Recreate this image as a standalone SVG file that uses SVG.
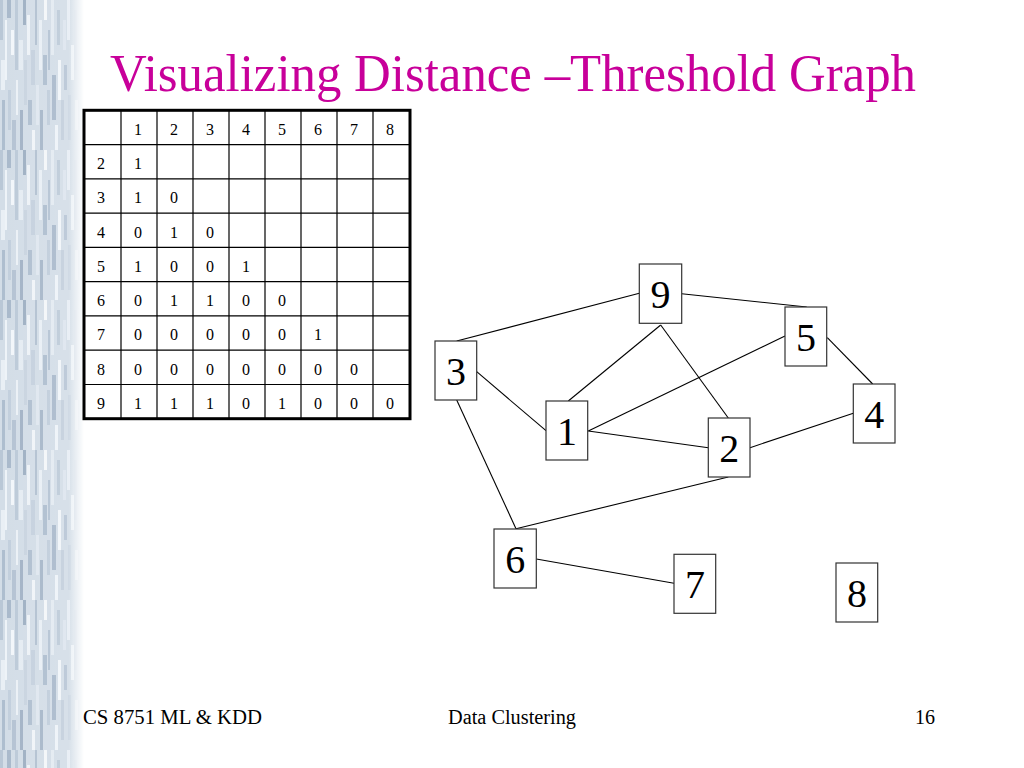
<svg xmlns="http://www.w3.org/2000/svg" width="1024" height="768" viewBox="0 0 1024 768">
<style>
text{font-family:"Liberation Serif","Times New Roman",serif}
.title{font-size:52px;fill:#C8009A}
.foot{font-size:20px;fill:#000}
.cell{font-size:16px;fill:#000}
.grid{stroke:#000;stroke-width:1.2;fill:none}
.node rect{fill:#fff;stroke:#333;stroke-width:1.2}
.node text{font-size:40px;fill:#000;text-anchor:middle}
.edge{stroke:#000;stroke-width:1.1;fill:none}
</style>
<defs>
<linearGradient id="fade" x1="0" y1="0" x2="1" y2="0">
<stop offset="0" stop-color="#fff" stop-opacity="0"/>
<stop offset="0.82" stop-color="#fff" stop-opacity="0.1"/>
<stop offset="1" stop-color="#fff" stop-opacity="1"/>
</linearGradient>
<pattern id="tex" x="0" y="0" width="84" height="150" patternUnits="userSpaceOnUse">
<rect width="84" height="150" fill="#d3dde7"/>
<rect x="0" y="0" width="3" height="40" fill="#b9c7d6"/>
<rect x="1" y="60" width="4" height="30" fill="#e9eff5"/>
<rect x="2" y="100" width="3" height="50" fill="#aebecf"/>
<rect x="5" y="20" width="2" height="60" fill="#eef3f8"/>
<rect x="7" y="0" width="4" height="18" fill="#a9b9cb"/>
<rect x="8" y="90" width="3" height="40" fill="#c2cfdd"/>
<rect x="11" y="30" width="3" height="25" fill="#f2f6fa"/>
<rect x="12" y="120" width="4" height="30" fill="#b5c3d3"/>
<rect x="15" y="0" width="3" height="70" fill="#bccad8"/>
<rect x="16" y="80" width="2" height="35" fill="#ecf1f6"/>
<rect x="19" y="40" width="4" height="30" fill="#e5ecf3"/>
<rect x="20" y="110" width="3" height="40" fill="#a3b3c6"/>
<rect x="23" y="0" width="3" height="25" fill="#9fb0c3"/>
<rect x="24" y="60" width="3" height="45" fill="#c9d4e0"/>
<rect x="27" y="15" width="3" height="40" fill="#edf2f7"/>
<rect x="28" y="100" width="4" height="25" fill="#b0bfd0"/>
<rect x="31" y="50" width="4" height="35" fill="#c5d1de"/>
<rect x="32" y="130" width="3" height="20" fill="#f0f4f8"/>
<rect x="35" y="0" width="2" height="45" fill="#b2c1d1"/>
<rect x="36" y="85" width="3" height="40" fill="#dfe7ef"/>
<rect x="39" y="20" width="3" height="50" fill="#e9eff5"/>
<rect x="40" y="110" width="3" height="40" fill="#a7b7c9"/>
<rect x="43" y="55" width="4" height="30" fill="#aebecf"/>
<rect x="44" y="0" width="3" height="20" fill="#f3f6f9"/>
<rect x="47" y="90" width="3" height="35" fill="#c0cddb"/>
<rect x="48" y="30" width="2" height="40" fill="#b4c3d3"/>
<rect x="51" y="0" width="3" height="55" fill="#e3eaf1"/>
<rect x="52" y="75" width="4" height="45" fill="#a9b9cb"/>
<rect x="55" y="125" width="3" height="25" fill="#eef3f8"/>
<rect x="57" y="10" width="3" height="35" fill="#bccad8"/>
<rect x="58" y="60" width="3" height="40" fill="#f1f5f9"/>
<rect x="61" y="100" width="3" height="40" fill="#c3cfdc"/>
<rect x="63" y="20" width="3" height="30" fill="#dde5ee"/>
<rect x="64" y="65" width="3" height="25" fill="#b7c5d5"/>
<rect x="67" y="0" width="3" height="40" fill="#e7edf4"/>
<rect x="68" y="95" width="3" height="45" fill="#cbd6e2"/>
<rect x="71" y="45" width="3" height="35" fill="#eaf0f5"/>
<rect x="74" y="10" width="3" height="60" fill="#d0dae5"/>
<rect x="75" y="100" width="3" height="30" fill="#e2e9f0"/>
</pattern>
</defs>
<rect width="1024" height="768" fill="#fff"/>
<g id="side-strip">
<rect x="0" y="0" width="84" height="768" fill="url(#tex)"/>
<rect x="0" y="0" width="84" height="768" fill="url(#fade)"/>
</g>
<text class="title" x="110" y="91" textLength="806" lengthAdjust="spacingAndGlyphs">Visualizing Distance –Threshold Graph</text>
<g id="table">
<rect x="84" y="110.3" width="326" height="308.4" fill="#fff"/>
<g class="grid">
<line x1="121" y1="110.3" x2="121" y2="418.7"/><line x1="157" y1="110.3" x2="157" y2="418.7"/><line x1="193" y1="110.3" x2="193" y2="418.7"/><line x1="229" y1="110.3" x2="229" y2="418.7"/><line x1="265" y1="110.3" x2="265" y2="418.7"/><line x1="301" y1="110.3" x2="301" y2="418.7"/><line x1="337" y1="110.3" x2="337" y2="418.7"/><line x1="373" y1="110.3" x2="373" y2="418.7"/>
<line x1="84" y1="144.6" x2="410" y2="144.6"/><line x1="84" y1="178.8" x2="410" y2="178.8"/><line x1="84" y1="213.1" x2="410" y2="213.1"/><line x1="84" y1="247.4" x2="410" y2="247.4"/><line x1="84" y1="281.7" x2="410" y2="281.7"/><line x1="84" y1="315.9" x2="410" y2="315.9"/><line x1="84" y1="350.2" x2="410" y2="350.2"/><line x1="84" y1="384.5" x2="410" y2="384.5"/>
</g>
<rect x="84" y="110.3" width="326" height="308.4" fill="none" stroke="#000" stroke-width="3"/>
<g class="cell">
<text x="134" y="135">1</text><text x="170" y="135">2</text><text x="206" y="135">3</text><text x="242" y="135">4</text><text x="278" y="135">5</text><text x="314" y="135">6</text><text x="350" y="135">7</text><text x="386" y="135">8</text>
<text x="97" y="169">2</text><text x="134" y="169">1</text>
<text x="97" y="203.3">3</text><text x="134" y="203.3">1</text><text x="170" y="203.3">0</text>
<text x="97" y="237.6">4</text><text x="134" y="237.6">0</text><text x="170" y="237.6">1</text><text x="206" y="237.6">0</text>
<text x="97" y="271.9">5</text><text x="134" y="271.9">1</text><text x="170" y="271.9">0</text><text x="206" y="271.9">0</text><text x="242" y="271.9">1</text>
<text x="97" y="306.1">6</text><text x="134" y="306.1">0</text><text x="170" y="306.1">1</text><text x="206" y="306.1">1</text><text x="242" y="306.1">0</text><text x="278" y="306.1">0</text>
<text x="97" y="340.4">7</text><text x="134" y="340.4">0</text><text x="170" y="340.4">0</text><text x="206" y="340.4">0</text><text x="242" y="340.4">0</text><text x="278" y="340.4">0</text><text x="314" y="340.4">1</text>
<text x="97" y="374.7">8</text><text x="134" y="374.7">0</text><text x="170" y="374.7">0</text><text x="206" y="374.7">0</text><text x="242" y="374.7">0</text><text x="278" y="374.7">0</text><text x="314" y="374.7">0</text><text x="350" y="374.7">0</text>
<text x="97" y="409">9</text><text x="134" y="409">1</text><text x="170" y="409">1</text><text x="206" y="409">1</text><text x="242" y="409">0</text><text x="278" y="409">1</text><text x="314" y="409">0</text><text x="350" y="409">0</text><text x="386" y="409">0</text>
</g>
</g>
<g id="connectors">
<line class="edge" x1="456.7" y1="341" x2="639.3" y2="293.3"/>
<line class="edge" x1="681.7" y1="293.7" x2="806.7" y2="307"/>
<line class="edge" x1="660.7" y1="325" x2="568.3" y2="401"/>
<line class="edge" x1="660.7" y1="325" x2="728.3" y2="418"/>
<line class="edge" x1="785" y1="336" x2="588.3" y2="431"/>
<line class="edge" x1="827.3" y1="337.7" x2="872.7" y2="384"/>
<line class="edge" x1="476.7" y1="371.7" x2="546" y2="430.7"/>
<line class="edge" x1="588.3" y1="431" x2="708.3" y2="447.7"/>
<line class="edge" x1="750" y1="447.7" x2="853.3" y2="413.3"/>
<line class="edge" x1="456.7" y1="400" x2="516" y2="528.7"/>
<line class="edge" x1="728.3" y1="477" x2="516" y2="528.7"/>
<line class="edge" x1="536.3" y1="559" x2="674" y2="583.3"/>
</g>
<g id="node-9" class="node"><rect x="639.3" y="264" width="42.4" height="59.3"/><text x="660.5" y="308">9</text></g>
<g id="node-5" class="node"><rect x="785" y="307" width="41.7" height="59"/><text x="805.9" y="351">5</text></g>
<g id="node-3" class="node"><rect x="435" y="341" width="41.7" height="59"/><text x="455.9" y="385">3</text></g>
<g id="node-1" class="node"><rect x="546" y="401" width="41.7" height="59"/><text x="566.9" y="445">1</text></g>
<g id="node-2" class="node"><rect x="708.3" y="418" width="41.7" height="59"/><text x="729.2" y="462">2</text></g>
<g id="node-4" class="node"><rect x="853.3" y="384" width="41.7" height="59"/><text x="874.2" y="428">4</text></g>
<g id="node-6" class="node"><rect x="494" y="529" width="42.3" height="59"/><text x="515.2" y="573">6</text></g>
<g id="node-7" class="node"><rect x="674" y="554.3" width="41.7" height="59"/><text x="694.9" y="598.3">7</text></g>
<g id="node-8" class="node"><rect x="836" y="563" width="41.7" height="59"/><text x="856.9" y="607">8</text></g>
<text class="foot" x="83" y="724" textLength="179" lengthAdjust="spacingAndGlyphs">CS 8751 ML &amp; KDD</text>
<text class="foot" x="448" y="724" textLength="128" lengthAdjust="spacingAndGlyphs">Data Clustering</text>
<text class="foot" x="915" y="724">16</text>
</svg>
